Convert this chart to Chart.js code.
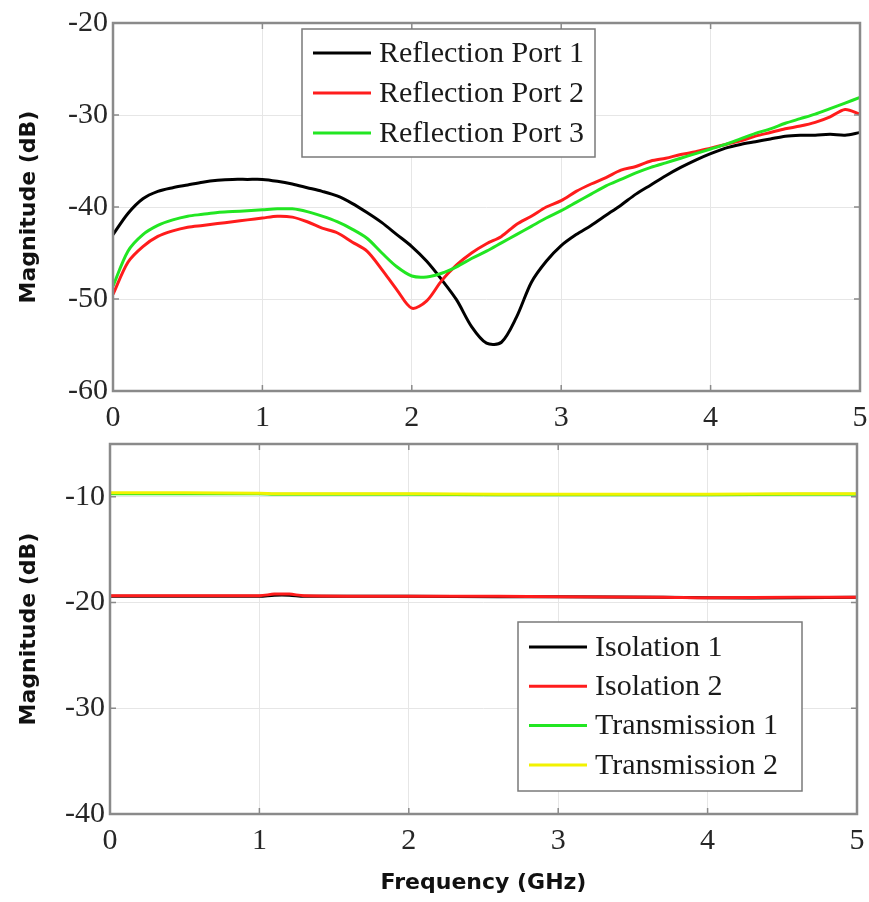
<!DOCTYPE html>
<html>
<head>
<meta charset="utf-8">
<script src="https://cdn.jsdelivr.net/npm/chart.js@4.4.1/dist/chart.umd.min.js"></script>
<style>
    body { margin: 0; background: #fff; width: 869px; height: 902px; overflow: hidden; position: relative; }
    canvas { position: absolute; left: 0; }
    #top { top: 0; }
    #bottom { top: 410px; }
</style>
</head>
<body>
<canvas id="top" width="869" height="437"></canvas>
<canvas id="bottom" width="869" height="492"></canvas>
<script>
"use strict"
// frequenze in GHz (grafico in alto)
const freq = [0,0.1,0.2,0.3,0.4,0.5,0.6,0.7,0.8,0.9,1.0,1.1,1.2,1.3,1.4,1.5,1.6,1.7,1.8,1.9,2.0,
    2.1,2.2,2.3,2.4,2.5,2.6,2.7,2.8,2.9,3.0,3.1,3.2,3.3,3.4,3.5,3.6,3.7,3.8,3.9,4.0,
    4.1,4.2,4.3,4.4,4.5,4.6,4.7,4.8,4.9,5.0];
const reflPort1 = [-43.0,-40.7,-39.1,-38.3,-37.9,-37.6,-37.3,-37.1,-37.0,-37.0,-37.0,
    -37.2,-37.5,-37.9,-38.3,-38.8,-39.6,-40.6,-41.7,-43.0,-44.3,
    -45.9,-47.9,-50.1,-53.0,-54.8,-54.7,-52.0,-48.2,-45.9,-44.2,
    -43.0,-42.0,-40.9,-39.8,-38.6,-37.6,-36.6,-35.7,-34.9,-34.2,
    -33.6,-33.2,-32.9,-32.6,-32.3,-32.2,-32.2,-32.1,-32.2,-31.9];
const reflPort2 = [-49.5,-46.0,-44.3,-43.2,-42.6,-42.2,-42.0,-41.8,-41.6,-41.4,-41.2,
    -41.0,-41.1,-41.6,-42.3,-42.8,-43.8,-44.8,-46.8,-49.0,-51.0,
    -50.2,-48.0,-46.3,-45.0,-44.0,-43.2,-41.9,-41.0,-40.0,-39.3,
    -38.3,-37.5,-36.8,-36.0,-35.6,-35.0,-34.7,-34.3,-34.0,-33.6,
    -33.2,-32.8,-32.3,-31.9,-31.5,-31.2,-30.8,-30.2,-29.4,-29.9];
const reflPort3 = [-48.6,-44.8,-43.0,-42.0,-41.4,-41.0,-40.8,-40.6,-40.5,-40.4,-40.3,
    -40.2,-40.2,-40.5,-41.0,-41.6,-42.4,-43.4,-45.0,-46.5,-47.5,
    -47.6,-47.2,-46.5,-45.6,-44.8,-43.9,-43.0,-42.1,-41.2,-40.4,
    -39.5,-38.6,-37.7,-37.0,-36.3,-35.7,-35.2,-34.7,-34.2,-33.7,
    -33.2,-32.6,-32.0,-31.5,-30.9,-30.4,-29.9,-29.3,-28.7,-28.1];

// grafico in basso
const freqLow = [0,1.0,1.1,1.2,1.3,2.0,2.6,3.0,3.7,4.0,4.6,5.0];
const isolation1 = [-19.4,-19.4,-19.3,-19.3,-19.4,-19.4,-19.45,-19.45,-19.5,-19.55,-19.55,-19.5];
const isolation2 = [-19.35,-19.35,-19.2,-19.2,-19.35,-19.4,-19.4,-19.45,-19.5,-19.55,-19.5,-19.5];
const transmission1 = [-9.7,-9.7,-9.75,-9.75,-9.75,-9.75,-9.8,-9.8,-9.8,-9.8,-9.75,-9.75];
const transmission2 = [-9.6,-9.65,-9.7,-9.7,-9.7,-9.7,-9.75,-9.75,-9.75,-9.75,-9.7,-9.7];

const xTicks = [0,1,2,3,4,5];
const yTicksTop = [-60,-50,-40,-30,-20];
const yTicksLow = [-40,-30,-20,-10];

const serif = "'Liberation Serif', 'Times New Roman', serif";
const sans = "'DejaVu Sans', sans-serif";

function punti(xs, ys) {
    return xs.map((x, i) => ({ x: x, y: ys[i] }));
}

function linea(label, xs, ys, colore, ordine) {
    return {
        label: label,
        data: punti(xs, ys),
        borderColor: colore,
        backgroundColor: colore,
        borderWidth: 3,
        pointRadius: 0,
        tension: 0.3,
        order: ordine
    };
}

// cornice stile matlab + legenda dentro al grafico
const cornice = {
    id: "cornice",
    afterDatasetsDraw(chart, args, opts) {
        const a = chart.chartArea;
        const ctx = chart.ctx;
        ctx.save();
        ctx.strokeStyle = "#8a8a8a";
        ctx.lineWidth = 1.5;
        ctx.beginPath();
        chart.scales.x.ticks.forEach(t => {
            const px = chart.scales.x.getPixelForValue(t.value);
            ctx.moveTo(px, a.bottom); ctx.lineTo(px, a.bottom - 6);
            ctx.moveTo(px, a.top); ctx.lineTo(px, a.top + 6);
        });
        chart.scales.y.ticks.forEach(t => {
            const py = chart.scales.y.getPixelForValue(t.value);
            ctx.moveTo(a.left, py); ctx.lineTo(a.left + 6, py);
            ctx.moveTo(a.right, py); ctx.lineTo(a.right - 6, py);
        });
        ctx.stroke();
        ctx.lineWidth = 2.5;
        ctx.strokeRect(a.left, a.top, a.right - a.left, a.bottom - a.top);

        const L = opts.box;
        ctx.fillStyle = "#fff";
        ctx.fillRect(L.x, L.y, L.w, L.h);
        ctx.strokeStyle = "#7a7a7a";
        ctx.lineWidth = 1.5;
        ctx.strokeRect(L.x, L.y, L.w, L.h);
        ctx.font = "30px " + serif;
        ctx.textBaseline = "middle";
        chart.data.datasets.forEach((ds, i) => {
            const y = L.row0 + i * L.step;
            ctx.strokeStyle = ds.borderColor;
            ctx.lineWidth = 3;
            ctx.beginPath();
            ctx.moveTo(L.x + 11, y);
            ctx.lineTo(L.x + 69, y);
            ctx.stroke();
            ctx.fillStyle = "#1a1a1a";
            ctx.fillText(ds.label, L.x + 77, y + 1);
        });
        ctx.restore();
    }
};

function opzioni(cfg) {
    return {
        responsive: false,
        animation: false,
        devicePixelRatio: 1,
        layout: { padding: cfg.padding },
        plugins: {
            legend: { display: false },
            tooltip: { enabled: false },
            cornice: { box: cfg.box }
        },
        scales: {
            x: {
                type: "linear",
                min: 0, max: 5,
                afterFit: s => { s.height = cfg.xHeight; s.paddingLeft = 0; s.paddingRight = 0; },
                afterBuildTicks: s => { s.ticks = xTicks.map(v => ({ value: v })); },
                ticks: { font: { family: serif, size: 30 }, color: "#262626", padding: 9 },
                grid: { color: "#e6e6e6", lineWidth: 1, drawTicks: false },
                border: { display: false },
                title: {
                    display: cfg.xTitle,
                    text: "Frequency (GHz)",
                    font: { family: sans, size: 22, weight: "bold" },
                    color: "#111",
                    padding: { top: 0, bottom: 6 }
                }
            },
            y: {
                min: cfg.yMin, max: cfg.yMax,
                afterFit: s => { s.width = cfg.yWidth; },
                afterBuildTicks: s => { s.ticks = cfg.yTicks.map(v => ({ value: v })); },
                ticks: { font: { family: serif, size: 30 }, color: "#262626", padding: 5 },
                grid: { color: "#e6e6e6", lineWidth: 1, drawTicks: false },
                border: { display: false },
                title: {
                    display: true,
                    text: "Magnitude (dB)",
                    font: { family: sans, size: 22, weight: "bold" },
                    color: "#111",
                    padding: { top: 16, bottom: 0 }
                }
            }
        }
    };
}

new Chart(document.getElementById("top"), {
    type: "line",
    data: {
        datasets: [
            linea("Reflection Port 1", freq, reflPort1, "#000000", 3),
            linea("Reflection Port 2", freq, reflPort2, "#ff1c1c", 2),
            linea("Reflection Port 3", freq, reflPort3, "#22e622", 1)
        ]
    },
    options: opzioni({
        padding: { top: 20, right: 9, left: 0, bottom: 0 },
        xHeight: 46, yWidth: 113, xTitle: false,
        yMin: -60, yMax: -20, yTicks: yTicksTop,
        box: { x: 302, y: 29, w: 293, h: 128, row0: 53, step: 40 }
    }),
    plugins: [cornice]
});

new Chart(document.getElementById("bottom"), {
    type: "line",
    data: {
        datasets: [
            linea("Isolation 1", freqLow, isolation1, "#000000", 4),
            linea("Isolation 2", freqLow, isolation2, "#ff1c1c", 3),
            linea("Transmission 1", freqLow, transmission1, "#22e622", 2),
            linea("Transmission 2", freqLow, transmission2, "#f2f200", 1)
        ]
    },
    options: opzioni({
        padding: { top: 34, right: 12, left: 0, bottom: 0 },
        xHeight: 88, yWidth: 110, xTitle: true,
        yMin: -40, yMax: -5, yTicks: yTicksLow,
        box: { x: 518, y: 212, w: 284, h: 169, row0: 237, step: 39.3 }
    }),
    plugins: [cornice]
});
</script>
</body>
</html>
